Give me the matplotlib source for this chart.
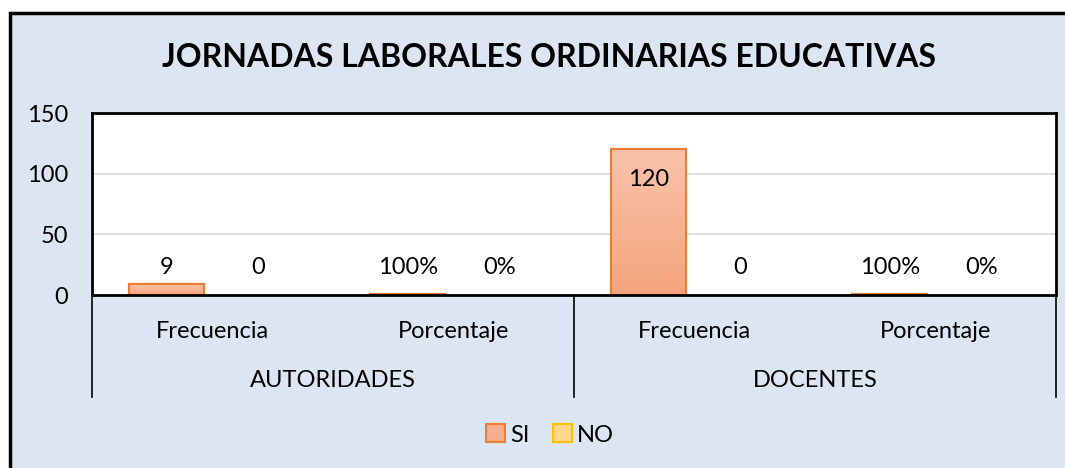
import numpy as np
import matplotlib.pyplot as plt
from matplotlib.patches import Rectangle, Patch
from matplotlib.colors import LinearSegmentedColormap
from matplotlib.transforms import blended_transform_factory

plt.rcParams['font.family'] = ['Lato', 'DejaVu Sans']

# Datos del gráfico
grupos = ['AUTORIDADES', 'DOCENTES']
subcategorias = ['Frecuencia', 'Porcentaje', 'Frecuencia', 'Porcentaje']
valores_si = [9, 1.0, 120, 1.0]
valores_no = [0, 0.0, 0, 0.0]
etiquetas_si = ['9', '100%', '120', '100%']
etiquetas_no = ['0', '0%', '0', '0%']
series = ['SI', 'NO']

fondo = '#dce6f2'
color_si = '#f6b08f'
color_si_borde = '#ed7d31'
color_no = '#ffd98a'
color_no_borde = '#ffc000'
tam = 17

fig = plt.figure(figsize=(10.65, 4.68), dpi=100)
fig.patch.set_facecolor('white')
fig.patches.append(Rectangle((9.5 / 1065, -0.1), 1.2, 1 - 13 / 468 + 0.1,
                             transform=fig.transFigure, facecolor=fondo,
                             edgecolor='black', linewidth=2.5, zorder=-10))

ax = fig.add_axes([92 / 1065, 1 - 295 / 468, (1056 - 92) / 1065, (295 - 113) / 468])
ax.set_facecolor('white')

x = np.arange(len(subcategorias))
ancho = 0.311
desp = 0.19

barras_si = ax.bar(x - desp, valores_si, ancho, color=color_si,
                   edgecolor=color_si_borde,
                   linewidth=[1.5 if v > 0 else 0 for v in valores_si], zorder=3)
barras_no = ax.bar(x + desp, valores_no, ancho, color=color_no,
                   edgecolor=color_no_borde,
                   linewidth=[1.5 if v > 0 else 0 for v in valores_no], zorder=3)

# Degradado en las barras SI (claro arriba, más intenso abajo)
grad = np.linspace(0, 1, 256).reshape(-1, 1)
cmap_si = LinearSegmentedColormap.from_list('si', ['#f4a47c', '#f9c3ab'])
for b in barras_si:
    h = b.get_height()
    if h <= 2:
        continue
    img = ax.imshow(grad, cmap=cmap_si, aspect='auto', zorder=3.2, origin='lower',
                    extent=[b.get_x(), b.get_x() + b.get_width(), 0, h])
    img.set_clip_path(b)
    ax.add_patch(Rectangle((b.get_x(), 0), b.get_width(), h, facecolor='none',
                           edgecolor=color_si_borde, linewidth=1.5, zorder=3.4))

ax.set_xlim(-0.5, len(subcategorias) - 0.5)
ax.set_ylim(0, 150)
ax.set_yticks([0, 50, 100, 150])
ax.grid(axis='y', color='#d9d9d9', linewidth=1.2, zorder=0)
ax.tick_params(axis='y', length=0, pad=17, labelsize=tam)
ax.tick_params(axis='x', length=0, pad=19, labelsize=tam)
ax.set_xticks(x)
ax.set_xticklabels(subcategorias)
for s in ax.spines.values():
    s.set_linewidth(2)
    s.set_color('black')
    s.set_zorder(6)

# Etiquetas de datos: las barras bajas llevan la etiqueta a la misma altura
for barras, textos in ((barras_si, etiquetas_si), (barras_no, etiquetas_no)):
    for b, txt in zip(barras, textos):
        h = b.get_height()
        cx = b.get_x() + b.get_width() / 2
        if h > 100:
            ax.annotate(txt, (cx, h), xytext=(0, -14), textcoords='offset points',
                        ha='center', va='top', fontsize=tam, zorder=5)
        else:
            ax.annotate(txt, (cx, 0), xytext=(0, 19.5), textcoords='offset points',
                        ha='center', va='center', fontsize=tam, zorder=5)

# Eje de categorías de varios niveles
tr = blended_transform_factory(ax.transData, ax.transAxes)
n_sub = len(subcategorias) // len(grupos)
for i in range(len(grupos) + 1):
    xs = -0.5 + i * n_sub
    ax.plot([xs, xs], [0, -0.56], transform=tr, color='black',
            linewidth=1.2, clip_on=False)
for i, g in enumerate(grupos):
    ax.text(-0.5 + i * n_sub + n_sub / 2, -0.47, g, transform=tr,
            ha='center', va='center', fontsize=tam)

ax.set_title('JORNADAS LABORALES ORDINARIAS EDUCATIVAS', fontsize=23,
             fontweight='bold', pad=33, x=0.474)

handles = [Patch(facecolor=color_si, edgecolor=color_si_borde, linewidth=1.5),
           Patch(facecolor=color_no, edgecolor=color_no_borde, linewidth=1.5)]
fig.legend(handles=handles, labels=series, loc='center',
           bbox_to_anchor=(550 / 1065, 1 - 435 / 468), ncol=2, frameon=False,
           fontsize=tam, handlelength=0.8, handleheight=0.8,
           handletextpad=0.2, columnspacing=1.0)

fig.savefig('out.png', dpi=100, facecolor=fig.get_facecolor())
